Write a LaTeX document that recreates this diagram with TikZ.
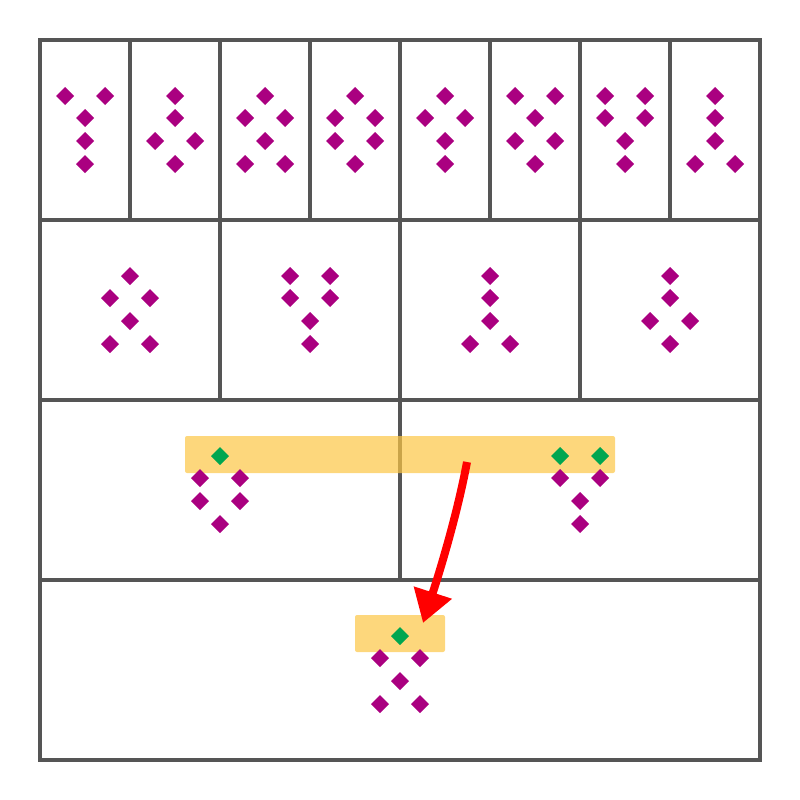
\documentclass[tikz,border=0pt]{standalone}
\usetikzlibrary{arrows.meta}
\definecolor{gridc}{RGB}{85,85,85}
\definecolor{purp}{RGB}{170,0,128}
\definecolor{grn}{RGB}{0,166,80}
\definecolor{hlc}{RGB}{252,198,69}
\definecolor{arrc}{RGB}{255,0,0}
\tikzset{
  gridline/.style={draw=gridc,line width=3.6pt},
  hl/.style={fill=hlc,fill opacity=0.7,rounded corners=2pt},
  pd/.pic={\fill[purp] (-9,0)--(0,-9)--(9,0)--(0,9)--cycle;},
  gd/.pic={\fill[grn] (-9,0)--(0,-9)--(9,0)--(0,9)--cycle;},
  redarrow/.style={draw=arrc,line width=8pt,-{Triangle[length=32pt,width=38pt]}}
}
\begin{document}
\begin{tikzpicture}[x=1pt,y=-1pt]
\useasboundingbox (0,0) rectangle (800,800);
% grid
\draw[gridline] (40,40) rectangle (760,760);
\foreach \yy in {220,400,580} \draw[gridline] (40,\yy) -- (760,\yy);
\foreach \xx in {130,220,310,400,490,580,670} \draw[gridline] (\xx,40) -- (\xx,220);
\foreach \xx in {220,400,580} \draw[gridline] (\xx,220) -- (\xx,400);
\draw[gridline] (400,400) -- (400,580);
% highlights
\fill[hl] (185,436) rectangle (615,473);
\fill[hl] (355,615) rectangle (445,652);
% row 1
\foreach \p in {(65,96),(105,96),(85,118),(85,141),(85,164),
  (175,96),(175,118),(155,141),(195,141),(175,164),
  (265,96),(245,118),(285,118),(265,141),(245,164),(285,164),
  (355,96),(335,118),(375,118),(335,141),(375,141),(355,164),
  (445,96),(425,118),(465,118),(445,141),(445,164),
  (515,96),(555,96),(535,118),(515,141),(555,141),(535,164),
  (605,96),(645,96),(605,118),(645,118),(625,141),(625,164),
  (715,96),(715,118),(715,141),(695,164),(735,164)}
  \pic at \p {pd};
% row 2
\foreach \p in {(130,276),(110,298),(150,298),(130,321),(110,344),(150,344),
  (290,276),(330,276),(290,298),(330,298),(310,321),(310,344),
  (490,276),(490,298),(490,321),(470,344),(510,344),
  (670,276),(670,298),(650,321),(690,321),(670,344)}
  \pic at \p {pd};
% row 3
\foreach \p in {(220,456),(560,456),(600,456)} \pic at \p {gd};
\foreach \p in {(200,478),(240,478),(200,501),(240,501),(220,524),
  (560,478),(600,478),(580,501),(580,524)}
  \pic at \p {pd};
% row 4
\pic at (400,636) {gd};
\foreach \p in {(380,658),(420,658),(400,681),(380,704),(420,704)}
  \pic at \p {pd};
% arrow
\coordinate (asrc) at (467,462);
\coordinate (adst) at (423,623);
\draw[redarrow] (asrc) .. controls (459,505) and (445,555) .. (adst);
\end{tikzpicture}
\end{document}
